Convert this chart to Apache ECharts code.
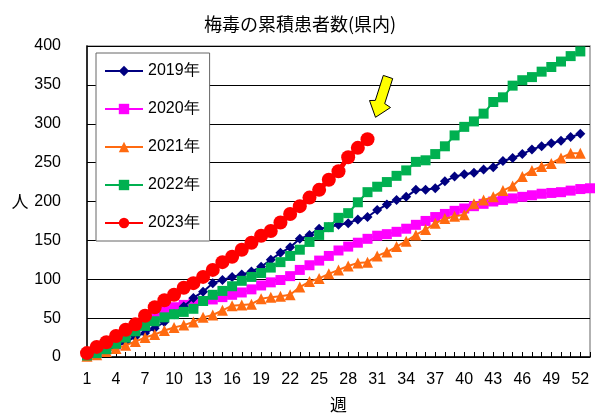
<!DOCTYPE html>
<html><head><meta charset="utf-8">
<script src="https://cdn.jsdelivr.net/npm/echarts@6/dist/echarts.min.js"></script>
<style>html,body{margin:0;padding:0;background:#fff}#c{width:600px;height:414px}</style>
</head><body><div id="c"></div>
<script>
var weeks = []; for (var w = 1; w <= 53; w++) weeks.push(String(w));
var seriesNames = ['2019年','2020年','2021年','2022年','2023年'];
var y2019 = [2,4,8,13,19,26,31,37,45,55,65,76,84,95,99,103,106,110,116,125,134,141,152,157,165,167,170,172,177,180,189,196,202,206,215,215,217,226,232,235,237,241,244,252,256,261,267,271,275,278,283,287];
var y2020 = [2,5,10,16,25,35,45,55,60,64,67,69,72,74,77,80,83,87,92,96,99,104,112,118,124,130,137,142,147,152,156,158,161,165,170,175,180,184,188,191,194,197,200,202,204,206,208,210,211,212,214,216,217];
var y2021 = [1,3,7,11,15,20,25,29,34,38,41,45,51,54,60,66,67,68,75,77,78,80,90,97,101,107,112,117,121,122,130,135,142,149,157,164,172,178,181,183,197,202,206,214,220,232,240,245,249,256,262,262];
var y2022 = [2,5,10,17,25,33,40,46,51,55,58,62,72,80,85,91,98,103,108,115,122,130,138,148,157,167,179,185,199,212,219,225,233,240,251,253,261,271,285,296,303,313,328,334,349,356,360,367,373,380,387,393];
var y2023 = [5,13,19,27,35,42,53,64,73,80,89,95,103,112,122,129,138,147,156,162,173,184,194,205,215,228,239,257,269,280];
var yTicks = {min: 0, max: 400, interval: 50};

var JP = '"Noto Sans CJK JP", sans-serif';
var NUM = '"Liberation Sans", Arial, sans-serif';
var chart = echarts.init(document.getElementById('c'), null, {renderer: 'canvas'});

function mk(name, data, color, symbol, size, lw, z) {
  return {name: name, type: 'line', data: data, symbol: symbol, symbolSize: size, z: z,
    showAllSymbol: true,
    itemStyle: {color: color}, lineStyle: {color: color, width: lw}, animation: false};
}

chart.setOption({
  animation: false,
  title: {text: '梅毒の累積患者数(県内)', left: 'center', top: 10,
    textStyle: {fontFamily: JP, fontSize: 18, fontWeight: 'normal', color: '#000'}},
  grid: {left: 87, right: 10, top: 46, bottom: 57, show: true, borderColor: '#999', borderWidth: 1.5,
    containLabel: false, outerBoundsMode: 'none'},
  legend: {orient: 'vertical', left: 96, top: 53, width: 115, data: seriesNames,
    backgroundColor: '#fff', borderColor: '#666', borderWidth: 1,
    padding: [10, 10, 10, 8], itemGap: 22, itemWidth: 38, itemHeight: 13,
    textStyle: {fontFamily: NUM, fontSize: 16, color: '#000'}},
  xAxis: {type: 'category', data: weeks, boundaryGap: false,
    name: '週', nameLocation: 'middle', nameGap: 39,
    nameTextStyle: {fontFamily: JP, fontSize: 17, color: '#000'},
    axisLine: {lineStyle: {color: '#000', width: 1.5}},
    axisTick: {inside: true, length: 5, interval: 0, lineStyle: {color: '#000'}},
    axisLabel: {interval: 2, margin: 15, fontFamily: NUM, fontSize: 16, color: '#000'},
    splitLine: {show: false}},
  yAxis: {type: 'value', min: yTicks.min, max: yTicks.max, interval: yTicks.interval,
    name: '人', nameLocation: 'middle', nameGap: 56, nameRotate: 0,
    nameTextStyle: {fontFamily: JP, fontSize: 17, color: '#000'},
    axisLine: {show: true, lineStyle: {color: '#000', width: 1.5}},
    axisTick: {show: true, inside: true, length: 4, lineStyle: {color: '#000'}},
    axisLabel: {margin: 26, fontFamily: NUM, fontSize: 16, color: '#000'},
    splitLine: {show: true, lineStyle: {color: '#000', width: 1}}},
  series: [
    mk('2019年', y2019, '#000080', 'diamond', 10, 2, 3),
    mk('2020年', y2020, '#FF00FF', 'rect', 10, 2, 2),
    mk('2021年', y2021, '#FF6A10', 'triangle', 11, 2, 4),
    mk('2022年', y2022, '#00B050', 'rect', 10, 2, 5),
    mk('2023年', y2023, '#FF0000', 'circle', 14, 5, 6)
  ],
  graphic: [{type: 'polygon', z: 100,
    shape: {points: [[383.3,75.4],[392.7,78.6],[384.7,103.6],[390.5,107.5],[375.5,117.3],[369.5,100.5],[375.3,100.4]]},
    style: {fill: '#FFFF00', stroke: '#000', lineWidth: 1}}]
});
</script></body></html>
